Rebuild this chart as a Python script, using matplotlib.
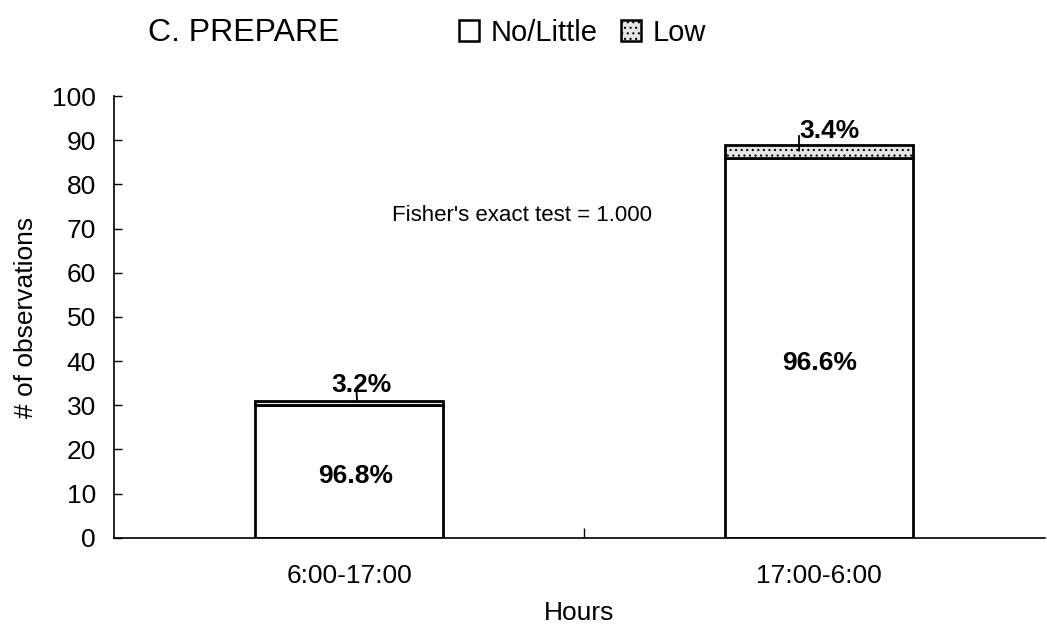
import matplotlib.pyplot as plt
from matplotlib.patches import Patch

plt.rcParams['font.family'] = ['Liberation Sans', 'DejaVu Sans']
plt.rcParams['hatch.color'] = '#a8a8a8'
plt.rcParams['hatch.linewidth'] = 0.8

hours = ['6:00-17:00', '17:00-6:00']
no_little = [30, 86]
low = [1, 3]
no_little_pct = ['96.8%', '96.6%']
low_pct = ['3.2%', '3.4%']
y_ticks = list(range(0, 101, 10))

fig = plt.figure(figsize=(10.47, 6.32), dpi=100)
ax = fig.add_axes([0.109, 0.149, 0.889, 0.699])

x = list(range(len(hours)))
ax.bar(x, no_little, width=0.4, color='white', edgecolor='black', linewidth=2)
ax.bar(x, low, width=0.4, bottom=no_little, color='#e6e6e6', edgecolor='black',
       linewidth=2, hatch='...')

# percentage labels inside / above bars
ax.text(0.013, 14.0, no_little_pct[0], ha='center', va='center', fontsize=19, fontweight='bold')
ax.text(1.0, 39.5, no_little_pct[1], ha='center', va='center', fontsize=19, fontweight='bold')
ax.annotate(low_pct[0], xy=(0.017, no_little[0] + 0.7), xytext=(0.026, 34.6),
            ha='center', va='center', fontsize=19, fontweight='bold',
            arrowprops=dict(arrowstyle='-', lw=1.3, color='black', relpos=(0.42, 0.2),
                            patchA=None, shrinkA=0, shrinkB=0))
ax.annotate(low_pct[1], xy=(0.957, no_little[1] + 1.6), xytext=(1.021, 92.1),
            ha='center', va='center', fontsize=19, fontweight='bold',
            arrowprops=dict(arrowstyle='-', lw=1.3, color='black', relpos=(0.0, 0.3),
                            patchA=None, shrinkA=0, shrinkB=0))

ax.text(0.368, 73, "Fisher's exact test = 1.000", ha='center', va='center', fontsize=16)

ax.set_xlim(-0.5, 1.48)
ax.set_ylim(0, 100)
ax.set_yticks(y_ticks)
ax.set_xticks(x)
ax.set_xticklabels(hours)
ax.set_xticks([0.5], minor=True)
ax.tick_params(axis='y', direction='in', length=6, width=1, labelsize=19, pad=13)
ax.tick_params(axis='x', which='major', length=0, labelsize=19, pad=19)
ax.tick_params(axis='x', which='minor', direction='in', length=7, width=1)
ax.spines['top'].set_visible(False)
ax.spines['right'].set_visible(False)
ax.spines['left'].set_linewidth(1.2)
ax.spines['bottom'].set_linewidth(1.2)

ax.set_ylabel('# of observations', fontsize=19, labelpad=10)
ax.set_xlabel('Hours', fontsize=19, labelpad=9)

fig.text(0.141, 0.948, 'C. PREPARE', fontsize=23, va='center', ha='left')
handles = [Patch(facecolor='white', edgecolor='black', linewidth=1.8),
           Patch(facecolor='#e6e6e6', edgecolor='black', linewidth=1.8, hatch='...')]
fig.legend(handles, ['No/Little', 'Low'], loc='center left', bbox_to_anchor=(0.438, 0.948),
           ncol=2, frameon=False, fontsize=21, handlelength=0.7, handleheight=0.7,
           handletextpad=0.4, columnspacing=0.8, borderpad=0, borderaxespad=0)

fig.savefig('out.png', dpi=100)
